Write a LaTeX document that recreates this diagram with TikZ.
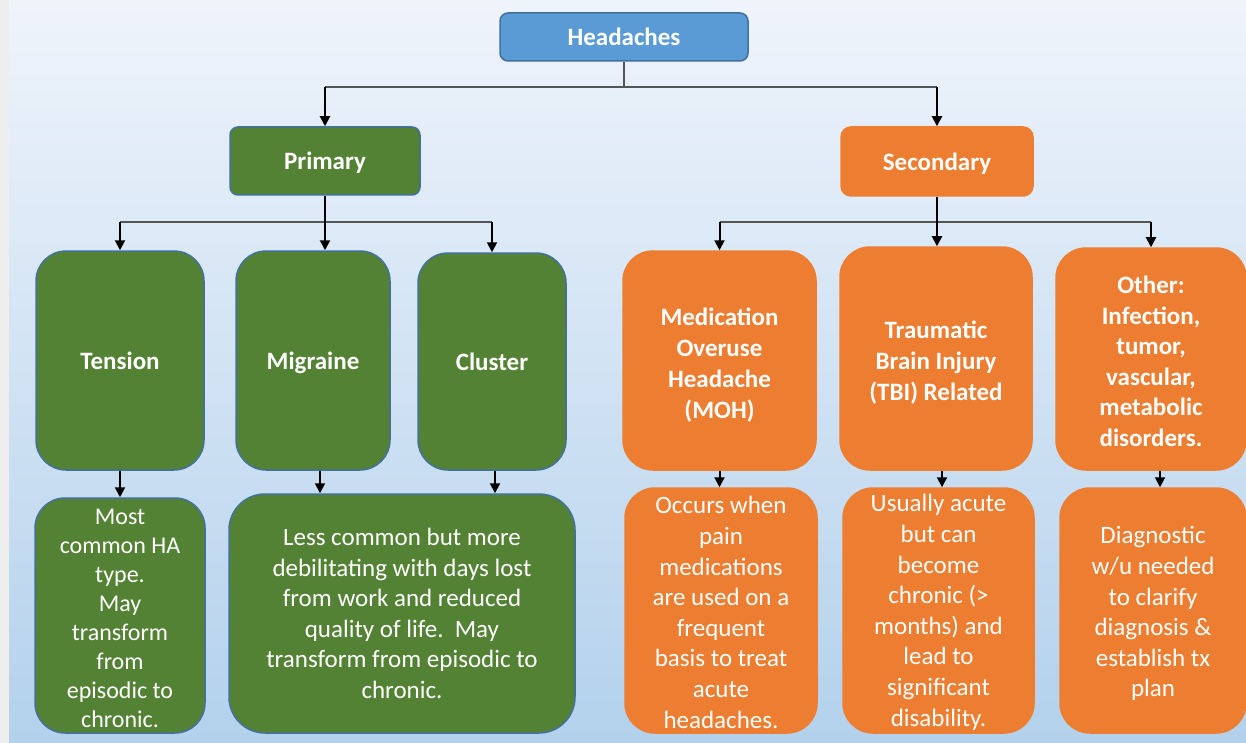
\documentclass[tikz,border=0pt]{standalone}
\usepackage{fontspec}
\setmainfont{Carlito}
\usepackage{tikz}
\usetikzlibrary{arrows.meta}
\definecolor{bgtop}{HTML}{EFF4FB}
\definecolor{bgbot}{HTML}{B3D1EC}
\definecolor{stripgray}{HTML}{EEEEEE}
\definecolor{headblue}{HTML}{5B9BD5}
\definecolor{edgeblue}{HTML}{41719C}
\definecolor{primgreen}{HTML}{548235}
\definecolor{secorange}{HTML}{ED7D31}
\definecolor{linegray}{HTML}{555555}
\newcommand\topgap[1]{\rule{0pt}{#1}}
\tikzset{
  box/.style={inner sep=0pt, align=center, text=white, line width=1.5pt},
  title/.style={box, font=\fontsize{25}{31}\selectfont\bfseries},
  onetitle/.style={title, text height=20pt, text depth=2pt},
  desc/.style={box, font=\fontsize{25}{30.6}\selectfont},
  bluebox/.style={fill=headblue, draw=edgeblue, rounded corners=8pt},
  greenbox/.style={fill=primgreen, draw=edgeblue},
  orangebox/.style={fill=secorange, draw=secorange},
  bar/.style={draw=linegray, line width=1.5pt},
  arr/.style={draw=black, line width=2pt, -{Triangle[length=10pt,width=10pt]}}
}
\begin{document}
\begin{tikzpicture}[x=1pt,y=-1pt]
\useasboundingbox (0,0) rectangle (1246,743);
\shade[top color=bgtop, bottom color=bgbot] (0,0) rectangle (1246,743);
\fill[stripgray] (0,0) rectangle (9,743);

% top level
\node[onetitle, bluebox, minimum width=248pt, minimum height=48pt] (head) at (624,37) {Headaches};
\node[onetitle, greenbox, rounded corners=8pt, minimum width=190pt, minimum height=68pt] (prim) at (325,161) {Primary};
\node[onetitle, orangebox, rounded corners=10pt, minimum width=192pt, minimum height=69pt] (sec) at (937,161.5) {Secondary};

% primary types
\node[onetitle, greenbox, rounded corners=30pt, minimum width=168pt, minimum height=219pt] (tens) at (120,360.5) {Tension};
\node[onetitle, greenbox, rounded corners=30pt, minimum width=154pt, minimum height=219pt] (migr) at (313,360.5) {Migraine};
\node[onetitle, greenbox, rounded corners=30pt, minimum width=148pt, minimum height=217pt] (clus) at (492,361.5) {Cluster};

% secondary types
\node[title, orangebox, rounded corners=30pt, minimum width=193pt, minimum height=219pt] (moh) at (719.5,360.5) {\topgap{26pt}Medication\\Overuse\\Headache\\(MOH)};
\node[title, orangebox, rounded corners=30pt, minimum width=192pt, minimum height=223pt] (tbi) at (936,358.5) {\topgap{26pt}Traumatic\\Brain Injury\\(TBI) Related};
\node[title, orangebox, rounded corners=30pt, minimum width=190pt, minimum height=222pt, font=\fontsize{25}{30.6}\selectfont\bfseries] (oth) at (1151,359) {\topgap{22pt}Other:\\Infection,\\tumor,\\vascular,\\metabolic\\disorders.};

% descriptions
\node[desc, greenbox, rounded corners=30pt, minimum width=170pt, minimum height=235pt, font=\fontsize{24}{29.1}\selectfont] (tensd) at (120,615.5) {\topgap{21pt}Most\\common HA\\type.\\May\\transform\\from\\episodic to\\chronic.};
\node[desc, greenbox, rounded corners=36pt, minimum width=346pt, minimum height=239pt] (migrd) at (402,613.5) {Less common but more\\debilitating with days lost\\from work and reduced\\quality of life.~~May\\transform from episodic to\\chronic.};
\node[desc, orangebox, rounded corners=30pt, minimum width=192pt, minimum height=245pt] (mohd) at (721,610.5) {\topgap{21pt}Occurs when\\pain\\medications\\are used on a\\frequent\\basis to treat\\acute\\headaches.};
\node[desc, orangebox, rounded corners=30pt, minimum width=191pt, minimum height=245pt] (tbid) at (938.5,610.5) {\topgap{21pt}Usually acute\\but can\\become\\chronic (>\\months) and\\lead to\\significant\\disability.};
\node[desc, orangebox, rounded corners=30pt, minimum width=186pt, minimum height=245pt] (othd) at (1153,610.5) {\topgap{24pt}Diagnostic\\w/u needed\\to clarify\\diagnosis \&\\establish tx\\plan};

% headaches -> primary / secondary
\coordinate (hb) at (624,87);
\draw[bar] (head.south) -- (hb);
\draw[bar] (prim.north |- hb) -- (sec.north |- hb);
\draw[arr] (prim.north |- hb) -- (prim.north);
\draw[arr] (sec.north |- hb) -- (sec.north);

% primary -> types
\coordinate (pb) at (325,222);
\draw[bar] (tens.north |- pb) -- (clus.north |- pb);
\draw[arr] (prim.south) -- (prim.south |- migr.north);
\draw[arr] (tens.north |- pb) -- (tens.north);
\draw[arr] (clus.north |- pb) -- (clus.north);

% secondary -> types
\coordinate (sb) at (938,222);
\draw[bar] (moh.north |- sb) -- (oth.north |- sb);
\draw[arr] (sec.south) -- (sec.south |- tbi.north);
\draw[arr] (moh.north |- sb) -- (moh.north);
\draw[arr] (oth.north |- sb) -- (oth.north);

% types -> descriptions
\draw[arr] (tens.south) -- (tensd.north);
\draw[arr] ([xshift=7pt]migr.south) -- ([xshift=7pt]migr.south |- migrd.north);
\draw[arr] ([xshift=3pt]clus.south) -- ([xshift=3pt]clus.south |- migrd.north);
\draw[arr] (moh.south) -- (moh.south |- mohd.north);
\draw[arr] ([xshift=6pt]tbi.south) -- ([xshift=6pt]tbi.south |- tbid.north);
\draw[arr] ([xshift=9pt]oth.south) -- ([xshift=9pt]oth.south |- othd.north);
\end{tikzpicture}
\end{document}
